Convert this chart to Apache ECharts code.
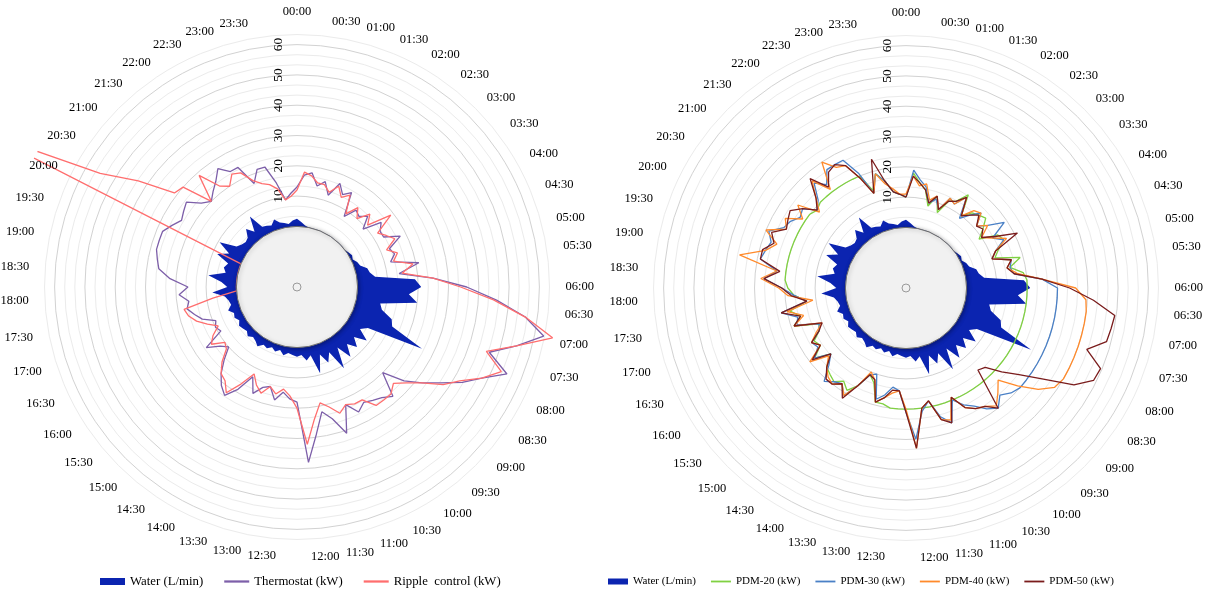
<!DOCTYPE html>
<html>
<head>
<meta charset="utf-8">
<script src="https://cdn.jsdelivr.net/npm/echarts@6/dist/echarts.min.js"></script>
<style>
  html, body { margin: 0; padding: 0; background: #ffffff; }
  #chart { width: 1216px; height: 594px; }
</style>
</head>
<body>
<div id="chart"></div>
<script>
// Angle-axis tick labels (every 30 minutes); data are sampled every 15 minutes.
const timeLabels = [
  "00:00","00:30","01:00","01:30","02:00","02:30","03:00","03:30",
  "04:00","04:30","05:00","05:30","06:00","06:30","07:00","07:30",
  "08:00","08:30","09:00","09:30","10:00","10:30","11:00","11:30",
  "12:00","12:30","13:00","13:30","14:00","14:30","15:00","15:30",
  "16:00","16:30","17:00","17:30","18:00","18:30","19:00","19:30",
  "20:00","20:30","21:00","21:30","22:00","22:30","23:00","23:30"
];

// Hot-water draw (L/min), 15-minute slots from 00:00
const water = [
  2.5, 1.5, 0.5, 0, 0, 0, 0, 0, 0, 0, 0, 0,
  0, 0, 0, 0.5, 1, 0.5, 1.5, 2, 4, 4.5, 6, 19,
  21, 17, 20, 8, 9, 13, 14, 26, 7, 5, 9, 5,
  8, 5, 9, 4, 11, 4, 7, 3.5, 9.5, 3, 4.5, 2.5,
  3, 2.5, 2, 3, 1.5, 2.5, 1.5, 2.5, 2, 3.5, 2.5, 2,
  3, 2, 2.5, 3, 2, 3, 2.5, 4, 2.5, 3, 4, 8,
  3, 5, 9.5, 4, 5, 4, 8.5, 5, 9.5, 4, 3, 2.5,
  3, 5.5, 3, 8, 3, 2.5, 2, 3.5, 2, 1.5, 1, 2
];

// Aggregate heater load (kW) - thermostat control
const thermostat = [
  13, 17, 18, 14, 16, 12, 17, 14, 16, 8, 12, 11,
  13, 9, 15, 13, 13, 18, 13, 14, 12, 21, 14, 25,
  36, 46, 56, 63, 55, 47, 55, 48, 43, 37, 32, 27,
  20, 28, 26, 25, 24, 26, 22, 31, 25, 22, 29, 38,
  18, 17, 15, 18, 14, 15, 18, 13, 19, 23, 21, 18,
  14, 10, 12, 16, 9, 10, 9, 13, 15, 17, 16, 19,
  16, 22, 26, 27, 28, 28, 28, 26, 24, 25, 26, 22,
  20, 22, 24, 27, 24, 24, 17, 21, 21, 15, 9, 11
];

// Aggregate heater load (kW) - ripple control
const ripple = [
  12, 18, 17, 15, 15, 13, 16, 13, 15, 9, 13, 10,
  14, 11, 19, 12, 14, 16, 12, 15, 13, 19, 15, 25,
  34, 45, 56, 66, 55, 46, 53, 48, 42, 38, 32, 28,
  25, 27, 27, 27, 23, 23, 22, 24, 21, 19, 24, 32,
  20, 16, 14, 16, 14, 17, 15, 12, 17, 22, 19, 18,
  15, 11, 10, 14, 12, 9, 12, 15, 17, 18, 8, 0,
  0, 0, 0, 0, 0, 0, 0, 95, 55, 43, 31, 30,
  20, 29, 22, 20, 23, 22, 18, 16, 15, 13, 9, 10
];

// Aggregate heater load (kW) under peak demand management limits
const pdm20 = [
  10, 18, 15, 13, 8, 12, 7, 12, 13, 17, 10, 13,
  14, 15, 12, 9, 15, 16, 13, 11, 19, 15, 19, 20,
  20, 20, 20, 20, 20, 20, 20, 20, 20, 20, 20, 20,
  20, 20, 20, 20, 20, 20, 20, 20, 20, 20, 20, 20,
  20, 20, 20, 19, 19, 13, 11, 16, 19, 17, 19, 18,
  17, 13, 18, 14, 15, 12, 11, 19, 16, 19, 13, 17,
  19, 20, 20, 20, 20, 20, 20, 20, 20, 20, 20, 19,
  20, 20, 20, 20, 20, 20, 20, 14, 19, 16, 12, 11
];

const pdm30 = [
  10, 19, 16, 14, 9, 11, 8, 13, 12, 16, 9, 12,
  15, 11, 14, 19, 13, 16, 12, 10, 16, 15, 16, 25,
  30, 30, 30, 30, 30, 30, 30, 30, 30, 30, 30, 30,
  29, 27, 30, 28, 25, 23, 20, 27, 24, 18, 21, 30,
  21, 14, 13, 16, 18, 10, 11, 16, 21, 18, 19, 21,
  16, 13, 18, 15, 16, 12, 11, 18, 17, 22, 13, 17,
  21, 27, 23, 29, 28, 27, 29, 25, 24, 22, 23, 19,
  21, 26, 23, 27, 27, 27, 21, 13, 19, 16, 12, 11
];

const pdm40 = [
  11, 17, 14, 15, 10, 12, 8, 13, 12, 16, 10, 14,
  15, 11, 14, 10, 13, 17, 12, 10, 16, 14, 17, 25,
  36, 39.5, 40, 40, 40, 40, 40, 40, 40, 39, 35, 29,
  23, 26, 29, 27, 26, 24, 19, 26, 25, 18, 20, 33,
  20, 14, 15, 17, 19, 12, 10, 16, 21, 18, 20, 19,
  17, 14, 20, 14, 16, 13, 10, 19, 15, 20, 11, 19,
  22, 28, 23, 36, 28, 25, 30, 24, 26, 21, 25, 18,
  22, 27, 21, 30, 26, 25, 19, 13, 19, 15, 13, 11
];

const pdm50 = [
  10, 17, 15, 13, 9, 12, 8, 12, 13, 16, 10, 12,
  14, 11, 12, 10, 14, 21, 12, 10, 16, 14, 16, 25,
  34, 42, 49.5, 49, 48.5, 43, 49.5, 49, 44, 34, 27, 22,
  17, 16, 30, 27, 26, 24, 19, 27, 25, 18, 20, 33,
  21, 14, 14, 17, 19, 12, 11, 16, 22, 18, 20, 20,
  17, 13, 19, 14, 16, 12, 10, 19, 16, 22, 13, 18,
  21, 27, 22, 29, 29, 26, 28, 24, 25, 26, 23, 19,
  22, 28, 22, 26, 27, 25, 19, 13, 24, 16, 12, 11
];

const COLORS = {
  water: '#0b24b0',
  thermostat: '#7d5fa9',
  ripple: '#ff6e6e',
  pdm20: '#80d142',
  pdm30: '#4a80c6',
  pdm40: '#ff8a2b',
  pdm50: '#7a1c1c'
};
const FONT = '"Liberation Serif", "Times New Roman", serif';

// Radial scale: -20 sits at the centre, rings every 10/3, visible rings stop at RING_MAX.
// The extra headroom up to R_MAX only widens the area in which traces may be drawn.
const R_MIN = -20;
const RING_MAX = 190 / 3;
const R_MAX = 230 / 3;
const R_STEP = 10 / 3;
const PX_PER_UNIT = 3.03;

// [radius, angle] pairs; the first slot is repeated at angle 96 so each trace closes.
function polarData(vals) {
  const pts = vals.map((v, i) => [v, i]);
  pts.push([vals[0], vals.length]);
  return pts;
}

function radiusLabel(v) {
  const k = Math.round(v);
  return (Math.abs(v - k) < 0.01 && k % 10 === 0 && k >= 0 && k <= 60) ? String(k) : '';
}

// Ring colours: darker every 10 units, light in between, none beyond the outer ring.
const ringColors = [];
for (let i = 0; i <= Math.round((R_MAX - R_MIN) / R_STEP); i++) {
  const v = R_MIN + i * R_STEP;
  if (v > RING_MAX + 1e-6) ringColors.push('rgba(0,0,0,0)');
  else ringColors.push(i % 3 === 0 ? '#d2d2d2' : '#ebebeb');
}

function angleAxisFor(idx) {
  return {
    polarIndex: idx, type: 'value', min: 0, max: 96, interval: 2,
    startAngle: 90, clockwise: true,
    axisLine: { show: false }, axisTick: { show: false }, splitLine: { show: false },
    axisLabel: { show: false }
  };
}

function radiusAxisFor(idx) {
  return {
    polarIndex: idx, type: 'value', min: R_MIN, max: R_MAX, interval: R_STEP,
    axisLine: { show: false }, axisTick: { show: false },
    axisLabel: { rotate: 90, margin: 12, fontFamily: FONT, fontSize: 13.5, color: '#000', formatter: radiusLabel },
    splitLine: { show: true, lineStyle: { color: ringColors, width: 1 } }
  };
}

function waterSeries(idx) {
  return {
    type: 'line', name: 'Water (L/min)', coordinateSystem: 'polar', polarIndex: idx,
    data: polarData(water), symbol: 'none', z: 1,
    color: COLORS.water,
    lineStyle: { width: 0, color: COLORS.water },
    areaStyle: { color: COLORS.water, opacity: 1, origin: 'start' }
  };
}

function loadSeries(idx, name, vals, color) {
  return {
    type: 'line', name, coordinateSystem: 'polar', polarIndex: idx,
    data: polarData(vals), symbol: 'none', z: 2,
    color, lineStyle: { width: 1.3, color }
  };
}

// Grey hub covering everything below zero, with a small marker at the centre
function hubSeries(idx) {
  return {
    type: 'custom', coordinateSystem: 'polar', polarIndex: idx, z: 5, silent: true,
    data: [[0, 0]],
    renderItem: (params, api) => {
      const cs = params.coordSys;
      const edge = api.coord([0, 0]);
      const r = Math.hypot(edge[0] - cs.cx, edge[1] - cs.cy);
      return {
        type: 'group',
        children: [
          { type: 'circle', shape: { cx: cs.cx, cy: cs.cy, r },
            style: { fill: '#f1f1f1', stroke: '#6c6c6c', lineWidth: 1,
                     shadowBlur: 4, shadowColor: 'rgba(0,0,0,0.35)', shadowOffsetX: 1, shadowOffsetY: 1 } },
          { type: 'circle', shape: { cx: cs.cx, cy: cs.cy, r: 4 },
            style: { fill: '#f1f1f1', stroke: '#9a9a9a', lineWidth: 1 } }
        ]
      };
    }
  };
}

// Time labels around the outer ring: the box corner nearest the centre sits on the label circle.
// Labels after 06:00 are eased slightly anticlockwise, as the layout spreads the 23:30/00:00 gap.
function timeLabelSeries(idx) {
  return {
    type: 'custom', coordinateSystem: 'polar', polarIndex: idx, z: 6, silent: true,
    data: timeLabels.map((t, i) => [i]),
    renderItem: (params, api) => {
      const cs = params.coordSys;
      const i = api.value(0);
      const p = api.coord([RING_MAX, i * 2]);
      let dx = p[0] - cs.cx, dy = p[1] - cs.cy;
      const len = Math.hypot(dx, dy);
      const shift = i > 12 ? -3 * Math.PI / 180 : 0;
      const ang = Math.atan2(dx, -dy) + shift;
      dx = Math.sin(ang); dy = -Math.cos(ang);
      const rr = len + 16;
      const align = i === 0 ? 'center' : (i <= 24 ? 'left' : 'right');
      const vAlign = (i === 12 || i === 36) ? 'middle' : (-dy > 0 ? 'bottom' : 'top');
      // corner-anchored boxes sit a little closer to the ring vertically
      const plain = i === 0 || i === 11 || i === 13;
      const yNudge = plain ? 0 : (vAlign === 'bottom' ? 7 : (vAlign === 'top' ? -5 : 0));
      const x = cs.cx + dx * rr;
      const y = cs.cy + dy * rr + yNudge;
      return {
        type: 'text',
        style: {
          legacy: false,
          text: timeLabels[i], x, y,
          align, verticalAlign: vAlign,
          font: '12.5px ' + FONT, fill: '#000'
        }
      };
    }
  };
}

const LINE_ICON = 'path://M0,0H50V4.5H0Z';

const chart = echarts.init(document.getElementById('chart'), null, { renderer: 'canvas' });
chart.setOption({
  backgroundColor: '#ffffff',
  animation: false,
  polar: [
    { center: [297, 287], radius: (R_MAX - R_MIN) * PX_PER_UNIT },
    { center: [906, 288], radius: (R_MAX - R_MIN) * PX_PER_UNIT }
  ],
  angleAxis: [angleAxisFor(0), angleAxisFor(1)],
  radiusAxis: [radiusAxisFor(0), radiusAxisFor(1)],
  legend: [
    {
      left: 100, top: 575, padding: 0, itemWidth: 25, itemHeight: 7, itemGap: 21,
      textStyle: { fontFamily: FONT, fontSize: 12.8, color: '#000' },
      data: [
        { name: 'Water (L/min)', icon: 'rect' },
        { name: 'Thermostat (kW)', icon: LINE_ICON },
        { name: 'Ripple  control (kW)', icon: LINE_ICON }
      ]
    },
    {
      left: 608, top: 576, padding: 0, itemWidth: 20, itemHeight: 6, itemGap: 15,
      textStyle: { fontFamily: FONT, fontSize: 11, color: '#000' },
      data: [
        { name: 'Water (L/min)', icon: 'rect' },
        { name: 'PDM-20 (kW)', icon: LINE_ICON },
        { name: 'PDM-30 (kW)', icon: LINE_ICON },
        { name: 'PDM-40 (kW)', icon: LINE_ICON },
        { name: 'PDM-50 (kW)', icon: LINE_ICON }
      ]
    }
  ],
  series: [
    waterSeries(0),
    loadSeries(0, 'Thermostat (kW)', thermostat, COLORS.thermostat),
    loadSeries(0, 'Ripple  control (kW)', ripple, COLORS.ripple),
    hubSeries(0),
    timeLabelSeries(0),
    waterSeries(1),
    loadSeries(1, 'PDM-20 (kW)', pdm20, COLORS.pdm20),
    loadSeries(1, 'PDM-30 (kW)', pdm30, COLORS.pdm30),
    loadSeries(1, 'PDM-40 (kW)', pdm40, COLORS.pdm40),
    loadSeries(1, 'PDM-50 (kW)', pdm50, COLORS.pdm50),
    hubSeries(1),
    timeLabelSeries(1)
  ]
});
</script>
</body>
</html>
